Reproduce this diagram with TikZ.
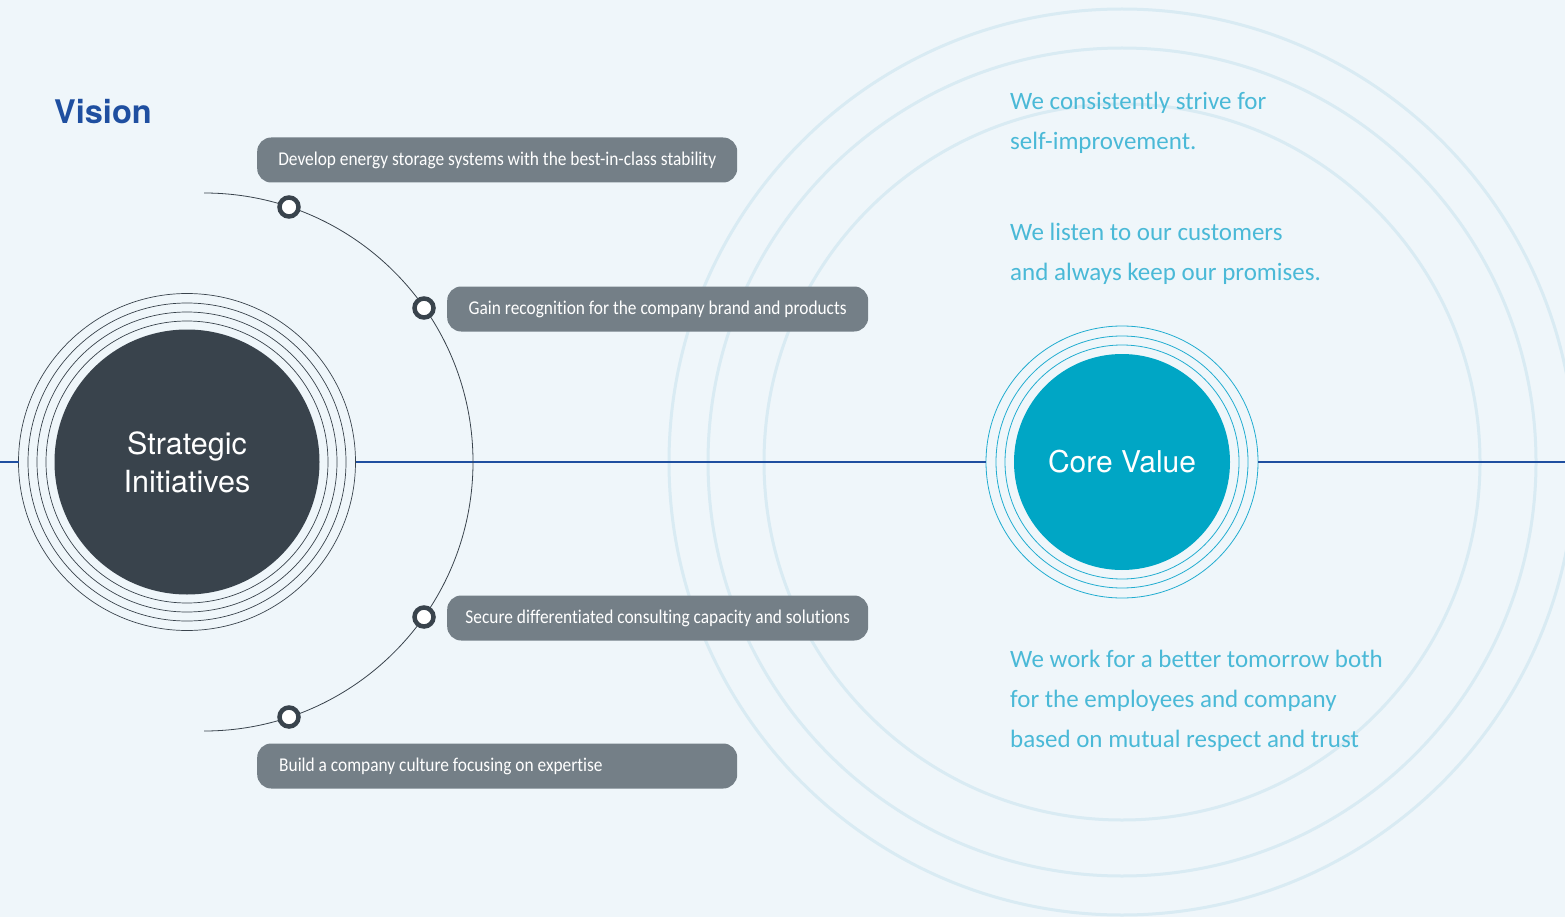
\documentclass[tikz,border=0pt]{standalone}
\usepackage{fontspec}
\setmainfont{Carlito}[Ligatures=NoCommon]
\newfontfamily\pillfont{Carlito}[Ligatures=NoCommon,FakeStretch=0.89]
\newfontfamily\heros{TeX Gyre Heros}
\definecolor{bgcol}{HTML}{EFF6FA}
\definecolor{slate}{HTML}{39434C}
\definecolor{pillgray}{HTML}{747F87}
\definecolor{teal}{HTML}{00A6C5}
\definecolor{tealring}{HTML}{22ADD0}
\definecolor{tealtext}{HTML}{4AB9D7}
\definecolor{navy}{HTML}{1F4FA0}
\definecolor{halo}{HTML}{D9EBF3}

\begin{document}
\begin{tikzpicture}[x=1pt,y=-1pt]
\tikzstyle{goal}=[fill=pillgray,rounded corners=14pt,minimum height=45pt,anchor=west,align=flush left,text=white,font=\pillfont\fontsize{19.5}{22}\selectfont];
\tikzstyle{dot}=[circle,draw=slate,line width=4.5pt,fill=white,minimum size=19pt,inner sep=0pt];
\tikzstyle{ring}=[circle,draw,inner sep=0pt,outer sep=0pt];
\tikzstyle{axis}=[navy,line width=1.6pt];
\tikzstyle{value}=[anchor=north west,align=left,inner sep=0pt,text=tealtext,font=\fontsize{25}{40}\selectfont];
\fill [bgcol] (0,0) rectangle (1565,917);
\useasboundingbox (0,0) rectangle (1565,917);

% halo around core value
\foreach \r in {358,414,453} \draw [halo,line width=3pt] (1122,462) circle (\r pt);

\node [anchor=base west,text=navy,font=\heros\bfseries\fontsize{32.5}{36}\selectfont,inner sep=0pt] (vis) at (54,124) {Vision};

% strategic initiatives
\node [ring,draw=slate,line width=0.7pt,fill=bgcol,minimum size=337pt] (sir) at (187,462) {};
\foreach \r in {141,150,159} \draw [slate,line width=0.7pt] (sir.center) circle (\r pt);
\node [circle,fill=slate,minimum size=265pt,inner sep=0pt,text=white,align=center,font=\heros\fontsize{30.5}{38}\selectfont] (si) at (187,462) {Strategic\\Initiatives};

% core value
\node [ring,draw=tealring,line width=0.8pt,fill=bgcol,minimum size=272pt] (cvr) at (1122,462) {};
\foreach \r in {117,126} \draw [tealring,line width=0.8pt] (cvr.center) circle (\r pt);
\node [circle,fill=teal,minimum size=216pt,inner sep=0pt,text=white,font=\heros\fontsize{30}{36}\selectfont] (cv) at (1122,462) {Core Value};

\coordinate (w) at (0,462);
\coordinate (e) at (1565,462);
\draw [axis] (w) -- (sir);
\draw [axis] (sir) -- (cvr);
\draw [axis] (cvr) -- (e);

% goals on the arc
\draw [slate,line width=0.8pt] (204,193) arc [start angle=90,end angle=-90,radius=269pt];
\node [dot] (d1) at (289,207) {};
\node [dot] (d2) at (424,308) {};
\node [dot] (d3) at (424,617) {};
\node [dot] (d4) at (289,717) {};
\node [goal,minimum width=480pt] (g1) at (257,160) {Develop energy storage systems with the best-in-class stability};
\node [goal,minimum width=421pt] (g2) at (447,309) {Gain recognition for the company brand and products};
\node [goal,minimum width=421pt] (g3) at (447,618) {Secure differentiated consulting capacity and solutions};
\node [goal,text width=436pt,inner xsep=22pt] (g4) at (257,766) {Build a company culture focusing on expertise};

% core values text
\node [value] (c1) at (1010,92) {We consistently strive for\\self-improvement.};
\node [value] (c2) at (1010,223) {We listen to our customers\\and always keep our promises.};
\node [value] (c3) at (1010,650) {We work for a better tomorrow both\\for the employees and company\\based on mutual respect and trust};
\end{tikzpicture}
\end{document}
